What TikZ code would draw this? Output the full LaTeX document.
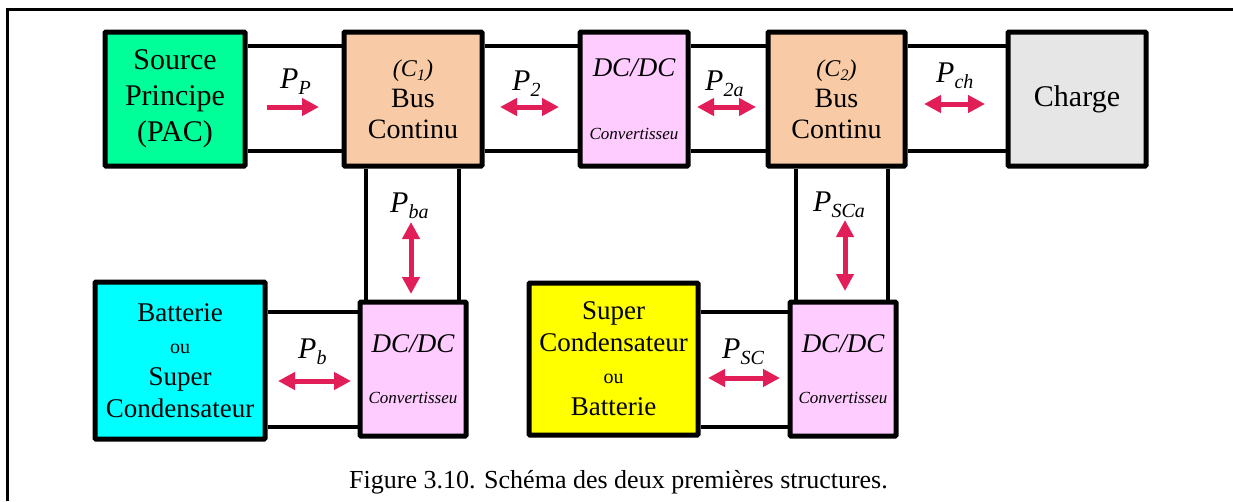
\documentclass[tikz,border=0pt]{standalone}
\usepackage{fontspec}
\setmainfont{Liberation Serif}
\usetikzlibrary{arrows.meta}
\definecolor{srcgreen}{RGB}{0,255,153}
\definecolor{buspeach}{RGB}{248,203,166}
\definecolor{convpink}{RGB}{255,204,255}
\definecolor{loadgray}{RGB}{230,230,230}
\definecolor{batcyan}{RGB}{0,255,255}
\definecolor{scyellow}{RGB}{255,255,0}
\definecolor{flowred}{RGB}{226,30,88}
\newcommand{\fsz}[2]{\fontsize{#1}{#2}\selectfont}
\newcommand{\pwr}[1]{\textit{P}\raisebox{-6pt}{\fsz{20}{20}\textit{#1}}}
\newcommand{\capC}[1]{\textit{(C}\raisebox{-4pt}{\fsz{16}{16}\textit{#1}}\textit{)}}
\begin{document}
\begin{tikzpicture}[x=1pt,y=-1pt,
  box/.style={draw=black,line width=5pt,rounded corners=1pt,inner sep=0pt,align=center},
  chan/.style={line width=4.2pt,black},
  frame/.style={line width=3pt,black},
  flow/.style={line width=5pt,flowred,-{Triangle[length=17pt,width=17pt]}},
  flowb/.style={line width=5pt,flowred,{Triangle[length=17pt,width=17pt]}-{Triangle[length=17pt,width=17pt]}},
  plab/.style={font=\fsz{30}{30},inner sep=0pt,anchor=base west}]
\useasboundingbox (0,0) rectangle (1233,501);
% frame
\coordinate (fbl) at (7,501);
\coordinate (ftl) at (7,9);
\coordinate (ftr) at (1233,9);
\draw[frame] (fbl) -- (ftl) -- (ftr);
% top row
\node[box,fill=srcgreen,minimum width=140pt,minimum height=134pt,font=\fsz{30}{36}] (src) at (175,99) {Source\\Principe\\(PAC)};
\node[box,fill=buspeach,minimum width=138pt,minimum height=134pt,font=\fsz{28}{31}] (c1) at (413,99) {{\fsz{24}{31}\capC{1}}\\Bus\\Continu};
\node[box,fill=convpink,minimum width=108pt,minimum height=134pt,font=\fsz{27}{30}\itshape] (dc1) at (634,99) {DC/DC\\[33pt]{\fsz{17}{30}Convertisseu}};
\node[box,fill=buspeach,minimum width=137pt,minimum height=134pt,font=\fsz{28}{31}] (c2) at (836.5,99) {{\fsz{24}{31}\capC{2}}\\Bus\\Continu};
\node[box,fill=loadgray,minimum width=138pt,minimum height=134pt,font=\fsz{30}{36}] (ch) at (1077,99) {Charge};
% bottom row
\node[box,fill=batcyan,minimum width=170pt,minimum height=157pt,font=\fsz{27}{32}] (bat) at (180,360.5) {Batterie\\{\fsz{20}{32}ou}\\Super\\Condensateur};
\node[box,fill=convpink,minimum width=106pt,minimum height=134pt,font=\fsz{27}{30}\itshape] (dc2) at (413,369) {DC/DC\\[21pt]{\fsz{17}{30}Convertisseu}};
\node[box,fill=scyellow,minimum width=169pt,minimum height=152pt,font=\fsz{27}{32}] (sc) at (613.5,359) {Super\\Condensateur\\{\fsz{20}{32}ou}\\Batterie};
\node[box,fill=convpink,minimum width=106pt,minimum height=134pt,font=\fsz{27}{30}\itshape] (dc3) at (843,369) {DC/DC\\[21pt]{\fsz{17}{30}Convertisseu}};
% channel reference levels
\coordinate (yA) at (0,46);
\coordinate (yB) at (0,151);
\coordinate (yC) at (0,312);
\coordinate (yD) at (0,427);
\coordinate (xa) at (366,0);
\coordinate (xb) at (459,0);
\coordinate (xc) at (796,0);
\coordinate (xd) at (888,0);
% top channels
\foreach \l/\r in {src/c1,c1/dc1,dc1/c2,c2/ch}{
  \draw[chan] (\l.east |- yA) -- (\r.west |- yA);
  \draw[chan] (\l.east |- yB) -- (\r.west |- yB);
}
% vertical channels
\draw[chan] (c1.south -| xa) -- (dc2.north -| xa);
\draw[chan] (c1.south -| xb) -- (dc2.north -| xb);
\draw[chan] (c2.south -| xc) -- (dc3.north -| xc);
\draw[chan] (c2.south -| xd) -- (dc3.north -| xd);
% bottom channels
\draw[chan] (bat.east |- yC) -- (dc2.west |- yC);
\draw[chan] (bat.east |- yD) -- (dc2.west |- yD);
\draw[chan] (sc.east |- yC) -- (dc3.west |- yC);
\draw[chan] (sc.east |- yD) -- (dc3.west |- yD);
% power flow arrows
\coordinate (aP1) at (267,107);  \coordinate (aP2) at (319,107);
\coordinate (a21) at (500,107);  \coordinate (a22) at (559,107);
\coordinate (a2a1) at (697,107); \coordinate (a2a2) at (756,107);
\coordinate (ach1) at (924,104); \coordinate (ach2) at (985,104);
\coordinate (aba1) at (411,222); \coordinate (aba2) at (411,294);
\coordinate (asa1) at (845,220); \coordinate (asa2) at (845,291);
\coordinate (ab1) at (278,381);  \coordinate (ab2) at (351,381);
\coordinate (asc1) at (708,378); \coordinate (asc2) at (780,378);
\draw[flow] (aP1) -- (aP2);
\draw[flowb] (a21) -- (a22);
\draw[flowb] (a2a1) -- (a2a2);
\draw[flowb] (ach1) -- (ach2);
\draw[flowb] (aba1) -- (aba2);
\draw[flowb] (asa1) -- (asa2);
\draw[flowb] (ab1) -- (ab2);
\draw[flowb] (asc1) -- (asc2);
% labels
\node[plab] (lP) at (280,88) {\pwr{P}};
\node[plab] (l2) at (512,90) {\pwr{2}};
\node[plab] (l2a) at (705,90) {\pwr{2a}};
\node[plab] (lch) at (936,82) {\pwr{ch}};
\node[plab] (lba) at (390,212) {\pwr{ba}};
\node[plab] (lsca) at (813,211) {\pwr{SCa}};
\node[plab] (lb) at (298,358) {\pwr{b}};
\node[plab] (lsc) at (722,358) {\pwr{SC}};
% caption
\node[font=\fsz{26}{26},inner sep=0pt,anchor=base] (cap) at (618.5,488) {Figure 3.10. Schéma des deux premières structures.};
\end{tikzpicture}
\end{document}
